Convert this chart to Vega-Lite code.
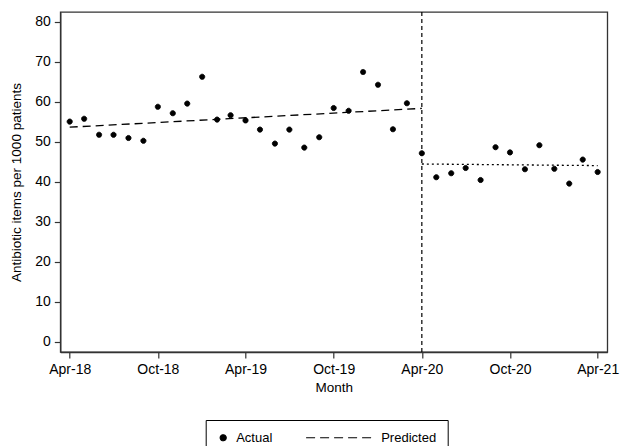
{
  "$schema": "https://vega.github.io/schema/vega-lite/v6.json",
  "autosize": "none",
  "width": 547,
  "height": 340,
  "padding": {"left": 60.3, "top": 12, "right": 12.7, "bottom": 94},
  "background": "white",
  "config": {
    "font": "Liberation Sans",
    "view": {"stroke": "#333", "strokeWidth": 1.3},
    "axis": {
      "grid": false,
      "domainColor": "#333",
      "domainWidth": 1.3,
      "tickColor": "#333",
      "tickSize": 6,
      "tickWidth": 1.2,
      "labelColor": "black",
      "labelFontSize": 14,
      "labelFont": "Liberation Sans",
      "titleFont": "Liberation Sans",
      "titleFontSize": 13.5,
      "titleFontWeight": "normal",
      "titleColor": "black"
    },
    "legend": {
      "orient": "none",
      "legendX": 145.4,
      "legendY": 408,
      "direction": "horizontal",
      "title": null,
      "strokeColor": "black",
      "padding": 11,
      "labelFontSize": 13,
      "labelFont": "Liberation Sans",
      "labelColor": "black",
      "columnPadding": 31,
      "labelOffset": 6.5,
      "symbolSize": 36,
      "symbolStrokeWidth": 1.2,
      "symbolStrokeColor": "black",
      "symbolOpacity": 1
    }
  },
  "datasets": {
    "actual": [
      {"date": "2018-04-01", "value": 55.0, "series": "Actual"},
      {"date": "2018-05-01", "value": 55.7, "series": "Actual"},
      {"date": "2018-06-01", "value": 51.7, "series": "Actual"},
      {"date": "2018-07-01", "value": 51.7, "series": "Actual"},
      {"date": "2018-08-01", "value": 50.9, "series": "Actual"},
      {"date": "2018-09-01", "value": 50.2, "series": "Actual"},
      {"date": "2018-10-01", "value": 58.7, "series": "Actual"},
      {"date": "2018-11-01", "value": 57.1, "series": "Actual"},
      {"date": "2018-12-01", "value": 59.5, "series": "Actual"},
      {"date": "2019-01-01", "value": 66.2, "series": "Actual"},
      {"date": "2019-02-01", "value": 55.5, "series": "Actual"},
      {"date": "2019-03-01", "value": 56.6, "series": "Actual"},
      {"date": "2019-04-01", "value": 55.3, "series": "Actual"},
      {"date": "2019-05-01", "value": 53.0, "series": "Actual"},
      {"date": "2019-06-01", "value": 49.5, "series": "Actual"},
      {"date": "2019-07-01", "value": 53.0, "series": "Actual"},
      {"date": "2019-08-01", "value": 48.5, "series": "Actual"},
      {"date": "2019-09-01", "value": 51.1, "series": "Actual"},
      {"date": "2019-10-01", "value": 58.4, "series": "Actual"},
      {"date": "2019-11-01", "value": 57.7, "series": "Actual"},
      {"date": "2019-12-01", "value": 67.4, "series": "Actual"},
      {"date": "2020-01-01", "value": 64.2, "series": "Actual"},
      {"date": "2020-02-01", "value": 53.1, "series": "Actual"},
      {"date": "2020-03-01", "value": 59.6, "series": "Actual"},
      {"date": "2020-04-01", "value": 47.1, "series": "Actual"},
      {"date": "2020-05-01", "value": 41.1, "series": "Actual"},
      {"date": "2020-06-01", "value": 42.1, "series": "Actual"},
      {"date": "2020-07-01", "value": 43.4, "series": "Actual"},
      {"date": "2020-08-01", "value": 40.4, "series": "Actual"},
      {"date": "2020-09-01", "value": 48.6, "series": "Actual"},
      {"date": "2020-10-01", "value": 47.3, "series": "Actual"},
      {"date": "2020-11-01", "value": 43.1, "series": "Actual"},
      {"date": "2020-12-01", "value": 49.1, "series": "Actual"},
      {"date": "2021-01-01", "value": 43.2, "series": "Actual"},
      {"date": "2021-02-01", "value": 39.5, "series": "Actual"},
      {"date": "2021-03-01", "value": 45.5, "series": "Actual"},
      {"date": "2021-04-01", "value": 42.4, "series": "Actual"}
    ],
    "predicted": [
      {"date": "2018-04-01", "value": 53.6},
      {"date": "2020-04-01", "value": 58.3}
    ],
    "post": [
      {"date": "2020-04-01", "value": 44.4},
      {"date": "2021-04-01", "value": 44.0}
    ],
    "cut": [
      {"date": "2020-04-01"}
    ]
  },
  "encoding": {
    "x": {
      "field": "date",
      "type": "temporal",
      "title": "Month",
      "scale": {
        "type": "utc",
        "domain": [
          {"year": 2018, "month": 3, "date": 12, "hours": 12, "utc": true},
          {"year": 2021, "month": 4, "date": 21, "utc": true}
        ]
      },
      "axis": {
        "format": "%b-%y",
        "values": [
          {"year": 2018, "month": 4, "date": 1, "utc": true},
          {"year": 2018, "month": 10, "date": 1, "utc": true},
          {"year": 2019, "month": 4, "date": 1, "utc": true},
          {"year": 2019, "month": 10, "date": 1, "utc": true},
          {"year": 2020, "month": 4, "date": 1, "utc": true},
          {"year": 2020, "month": 10, "date": 1, "utc": true},
          {"year": 2021, "month": 4, "date": 1, "utc": true}
        ],
        "labelPadding": 4,
        "titlePadding": 4,
        "labelFlush": false
      }
    }
  },
  "layer": [
    {
      "data": {"name": "cut"},
      "mark": {"type": "rule", "color": "black", "strokeDash": [4, 3], "strokeWidth": 1.2},
      "encoding": {}
    },
    {
      "data": {"name": "predicted"},
      "mark": {"type": "line", "color": "black", "strokeDash": [8, 5], "strokeWidth": 1.3},
      "encoding": {
        "y": {"field": "value", "type": "quantitative"}
      }
    },
    {
      "data": {"name": "post"},
      "mark": {"type": "line", "color": "black", "strokeDash": [2, 3], "strokeWidth": 1.3},
      "encoding": {
        "y": {"field": "value", "type": "quantitative"}
      }
    },
    {
      "data": {"name": "actual"},
      "mark": {"type": "point", "filled": true, "size": 26, "opacity": 1, "strokeWidth": 1},
      "encoding": {
        "y": {
          "field": "value",
          "type": "quantitative",
          "title": "Antibiotic items per 1000 patients",
          "scale": {"domain": [-2.6, 82.4], "nice": false, "zero": false},
          "axis": {"values": [0, 10, 20, 30, 40, 50, 60, 70, 80], "labelPadding": 4, "titlePadding": 11}
        },
        "color": {
          "field": "series",
          "type": "nominal",
          "scale": {"domain": ["Actual", "Predicted"], "range": ["black", "black"]},
          "legend": {"title": null}
        },
        "stroke": {
          "field": "series",
          "type": "nominal",
          "scale": {"domain": ["Actual", "Predicted"], "range": ["black", "black"]},
          "legend": {"title": null}
        },
        "shape": {
          "field": "series",
          "type": "nominal",
          "scale": {"domain": ["Actual", "Predicted"], "range": ["circle", "M-20.7,0H1.3"]},
          "legend": {"title": null}
        },
        "strokeDash": {
          "field": "series",
          "type": "nominal",
          "scale": {"domain": ["Actual", "Predicted"], "range": [[1, 0], [9, 5]]},
          "legend": {"title": null}
        }
      }
    }
  ]
}
